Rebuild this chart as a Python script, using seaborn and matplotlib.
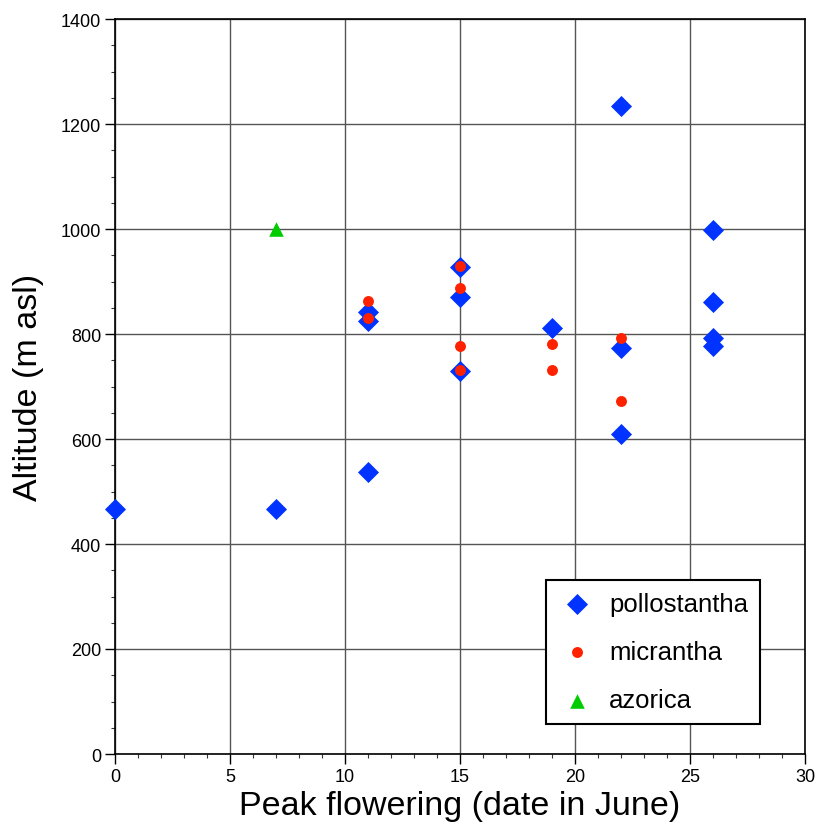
import matplotlib
matplotlib.use("Agg")
import matplotlib.pyplot as plt
from matplotlib.ticker import MultipleLocator
import seaborn as sns
import pandas as pd

poll_x = [0, 7, 11, 11, 11, 15, 15, 15, 19, 22, 22, 22, 26, 26, 26, 26]
poll_y = [467, 467, 538, 842, 825, 928, 870, 730, 811, 1235, 774, 609, 998, 861, 793, 777]
micr_x = [11, 11, 15, 15, 15, 15, 19, 19, 22, 22]
micr_y = [862, 831, 929, 887, 777, 731, 781, 731, 792, 672]
azor_x = [7]
azor_y = [1000]

species = ["pollostantha", "micrantha", "azorica"]
colors = {"pollostantha": "#0033ff", "micrantha": "#ff2200", "azorica": "#00cc00"}
markers = {"pollostantha": "D", "micrantha": "o", "azorica": "^"}
sizes = {"pollostantha": 115, "micrantha": 62, "azorica": 110}

df = pd.concat([
    pd.DataFrame({"x": poll_x, "y": poll_y, "sp": "pollostantha"}),
    pd.DataFrame({"x": micr_x, "y": micr_y, "sp": "micrantha"}),
    pd.DataFrame({"x": azor_x, "y": azor_y, "sp": "azorica"}),
], ignore_index=True)

sns.set_style("white")
plt.rcParams['font.family'] = ['Liberation Sans', 'DejaVu Sans']
plt.rcParams['text.color'] = 'black'
plt.rcParams['axes.labelcolor'] = 'black'
plt.rcParams['xtick.color'] = 'black'
plt.rcParams['ytick.color'] = 'black'

fig = plt.figure(figsize=(8.17, 8.28), dpi=100)
ax = fig.add_axes([115/817, 1-755/828, 690/817, 735/828])

for sp in species:
    sub = df[df.sp == sp]
    sns.scatterplot(data=sub, x="x", y="y", color=colors[sp], marker=markers[sp],
                    s=sizes[sp], linewidth=0, ax=ax, label=sp, zorder=3)
for coll in ax.collections:
    coll.set_clip_on(False)

ax.set_xlim(0, 30)
ax.set_ylim(0, 1400)
ax.set_xticks(range(0, 31, 5))
ax.set_yticks(range(0, 1401, 200))
ax.xaxis.set_minor_locator(MultipleLocator(1))
ax.yaxis.set_minor_locator(MultipleLocator(50))
ax.grid(True, which="major", color="#555555", linewidth=1.0)
ax.set_axisbelow(True)
for s in ax.spines.values():
    s.set_color("black")
    s.set_linewidth(1.2)
ax.tick_params(axis="both", which="major", direction="out", length=7, width=1,
               labelsize=13, color="black", labelcolor="black", left=True, bottom=True, pad=3)
ax.tick_params(axis="both", which="minor", direction="out", length=3, width=0.8,
               color="#333333", left=True, bottom=True)
ax.set_xlabel("Peak flowering (date in June)", fontsize=24.5, color="black", labelpad=4)
ax.set_ylabel("Altitude (m asl)", fontsize=24.5, color="black", labelpad=12)

leg = ax.legend(loc="upper left", bbox_to_anchor=((546-115)/690, (755-581)/735),
                frameon=True, fontsize=18.5, borderpad=0.45, labelspacing=0.95,
                handlelength=1.5, handletextpad=0.5, fancybox=False,
                edgecolor="black", framealpha=1, borderaxespad=0)
leg.get_frame().set_linewidth(1.5)
for t in leg.get_texts():
    t.set_color("black")

fig.savefig("out.png", dpi=100)
